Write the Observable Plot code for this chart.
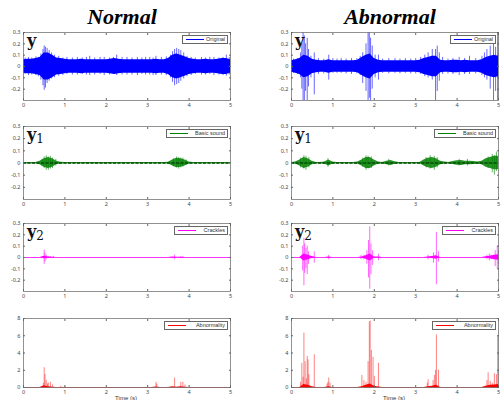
<!DOCTYPE html>
<html>
<head>
<meta charset="utf-8">
<script src="https://cdn.jsdelivr.net/npm/d3@7"></script>
<script src="https://cdn.jsdelivr.net/npm/@observablehq/plot@0.6"></script>
<style>
body{margin:0;background:#fff;}
#wrap{position:relative;width:501px;height:400px;overflow:hidden;background:#fff;}
.pane{position:absolute;}
.title{position:absolute;font-family:"Liberation Serif","DejaVu Serif",serif;font-weight:bold;font-style:italic;font-size:22px;color:#000;text-align:center;width:200px;}
.plab{position:absolute;font-family:"DejaVu Serif",serif;font-weight:bold;font-size:16px;line-height:16px;color:#111;}
.plab sub{font-size:12px;vertical-align:-3px;font-weight:normal;}
.leg{position:absolute;height:7px;border:1px solid #666;background:#fff;font-family:Arial,"Liberation Sans",sans-serif;font-size:5.5px;line-height:7px;color:#333;white-space:nowrap;}
.leg svg{position:absolute;left:3px;top:0;}
.leg span{position:absolute;right:2px;top:0;}
.xl{position:absolute;font-family:Arial,"Liberation Sans",sans-serif;font-size:6px;color:#333;text-align:center;width:60px;}
</style>
</head>
<body>
<div id="wrap"></div>
<script>
// ---------- data ----------
const columns = ["Normal", "Abnormal"];
const legendLabels = ["Original", "Basic sound", "Crackles", "Abnormality"];
const xTicks = [0, 1, 2, 3, 4, 5];
const yTicksSignal = [-0.2, -0.1, 0, 0.1, 0.2, 0.3];
const yTicksAbn = [0, 2, 4, 6, 8];
// sample times of the envelopes (s)
const tGrid = d3.range(0, 51).map(i => i / 10);

// envelope amplitudes at tGrid
const envNormalY = [0.06,0.065,0.065,0.07,0.08,0.12,0.12,0.1,0.075,0.07,0.065,0.06,0.06,0.06,0.065,0.06,0.06,0.06,0.06,0.06,0.06,0.065,0.07,0.065,0.06,0.06,0.06,0.06,0.06,0.06,0.06,0.06,0.065,0.06,0.06,0.07,0.1,0.11,0.1,0.085,0.07,0.065,0.06,0.06,0.065,0.06,0.06,0.065,0.07,0.07,0.06];
const envAbnY = [0.05,0.06,0.07,0.1,0.09,0.065,0.055,0.05,0.05,0.06,0.05,0.05,0.05,0.05,0.05,0.05,0.055,0.08,0.1,0.11,0.07,0.055,0.05,0.05,0.05,0.05,0.05,0.05,0.05,0.05,0.05,0.055,0.07,0.08,0.09,0.09,0.055,0.05,0.05,0.055,0.055,0.05,0.055,0.05,0.05,0.05,0.06,0.08,0.09,0.1,0.09];
const envNormalY1 = [0.005,0.005,0.005,0.005,0.015,0.035,0.045,0.035,0.015,0.006,0.005,0.005,0.005,0.005,0.005,0.005,0.005,0.005,0.005,0.005,0.005,0.005,0.005,0.005,0.005,0.005,0.005,0.005,0.005,0.005,0.005,0.005,0.005,0.005,0.005,0.006,0.025,0.04,0.035,0.025,0.008,0.005,0.005,0.005,0.005,0.005,0.005,0.005,0.005,0.005,0.005];
const envAbnY1 = [0.005,0.008,0.025,0.045,0.035,0.015,0.005,0.005,0.008,0.025,0.008,0.005,0.005,0.005,0.005,0.005,0.008,0.025,0.045,0.045,0.025,0.008,0.005,0.015,0.02,0.01,0.005,0.005,0.005,0.005,0.005,0.005,0.025,0.04,0.045,0.035,0.015,0.008,0.005,0.012,0.018,0.02,0.015,0.015,0.012,0.008,0.015,0.035,0.045,0.055,0.055];
const envNormalY2 = [0,0,0,0,0,0.012,0.004,0.002,0,0,0,0,0,0,0,0,0,0,0,0,0,0,0,0,0,0,0,0,0,0,0,0,0,0,0,0,0.004,0.002,0.002,0,0,0,0,0,0,0,0,0,0,0,0];
const envAbnY2 = [0,0,0,0.03,0.02,0.008,0,0,0,0.005,0,0,0,0,0,0,0,0.005,0.015,0.03,0.005,0.004,0,0,0,0,0,0,0,0,0,0,0,0.004,0.008,0.015,0,0,0,0,0,0,0,0,0,0,0,0.006,0.01,0.02,0.025];
const envNormalAbn = [0,0,0,0,0,0.2,0.1,0.03,0,0,0,0,0,0,0,0,0,0,0,0,0,0,0,0,0,0,0,0,0,0,0,0,0.05,0,0,0,0.08,0.03,0.08,0.03,0,0,0,0,0,0,0,0,0,0,0];
const envAbnAbn = [0,0,0,0.35,0.25,0.1,0,0,0,0.1,0,0,0,0,0,0,0,0.1,0.25,0.4,0.15,0.05,0,0,0,0,0,0,0,0,0,0,0,0.1,0.15,0.25,0,0,0,0,0,0,0,0,0,0,0,0.15,0.25,0.3,0.35];

// spikes: [time, top, bottom]
const spkNormalY = [[0.04,0.075,-0.07],[0.12,0.08,-0.08],[0.2,0.075,-0.075],[0.3,0.085,-0.08],[0.36,0.08,-0.09],[0.42,0.11,-0.12],[0.47,0.15,-0.17],[0.5,0.18,-0.21],[0.53,0.17,-0.19],[0.57,0.16,-0.15],[0.62,0.14,-0.13],[0.68,0.12,-0.11],[0.75,0.1,-0.1],[0.85,0.09,-0.085],[0.95,0.075,-0.08],[1.05,0.08,-0.07],[1.18,0.075,-0.075],[1.3,0.08,-0.075],[1.42,0.075,-0.07],[1.52,0.08,-0.075],[1.6,0.09,-0.08],[1.72,0.075,-0.075],[1.85,0.08,-0.07],[1.95,0.08,-0.08],[2.08,0.075,-0.075],[2.17,0.08,-0.07],[2.25,0.1,-0.08],[2.38,0.08,-0.075],[2.5,0.08,-0.075],[2.62,0.075,-0.075],[2.75,0.08,-0.08],[2.86,0.075,-0.07],[2.95,0.08,-0.075],[3.05,0.08,-0.075],[3.13,0.075,-0.08],[3.2,0.09,-0.08],[3.33,0.08,-0.075],[3.45,0.085,-0.08],[3.55,0.1,-0.1],[3.6,0.13,-0.14],[3.65,0.15,-0.17],[3.7,0.16,-0.16],[3.75,0.15,-0.15],[3.8,0.14,-0.13],[3.87,0.12,-0.11],[3.95,0.09,-0.09],[4.05,0.08,-0.08],[4.15,0.075,-0.07],[4.3,0.08,-0.075],[4.4,0.075,-0.075],[4.5,0.08,-0.07],[4.6,0.08,-0.08],[4.72,0.075,-0.075],[4.82,0.08,-0.08],[4.9,0.1,-0.085],[4.97,0.08,-0.075]];
const spkAbnY = [[0.05,0.065,-0.06],[0.15,0.07,-0.07],[0.22,0.12,-0.1],[0.25,0.2,-0.2],[0.28,0.3,-0.3],[0.31,0.27,-0.3],[0.34,0.2,-0.22],[0.38,0.25,-0.3],[0.41,0.15,-0.18],[0.47,0.09,-0.1],[0.55,0.12,-0.25],[0.65,0.07,-0.07],[0.78,0.065,-0.065],[0.9,0.1,-0.12],[1.0,0.07,-0.06],[1.1,0.065,-0.06],[1.2,0.07,-0.06],[1.32,0.065,-0.065],[1.45,0.07,-0.07],[1.58,0.07,-0.065],[1.66,0.09,-0.08],[1.72,0.12,-0.15],[1.8,0.2,-0.22],[1.85,0.3,-0.3],[1.88,0.3,-0.28],[1.91,0.25,-0.3],[1.95,0.18,-0.2],[2.02,0.1,-0.1],[2.1,0.1,-0.12],[2.2,0.065,-0.06],[2.35,0.07,-0.065],[2.5,0.07,-0.06],[2.62,0.065,-0.065],[2.75,0.07,-0.06],[2.88,0.065,-0.065],[3.0,0.07,-0.065],[3.12,0.08,-0.07],[3.22,0.1,-0.09],[3.3,0.12,-0.1],[3.4,0.15,-0.12],[3.48,0.15,-0.3],[3.52,0.18,-0.22],[3.57,0.12,-0.13],[3.65,0.08,-0.07],[3.78,0.065,-0.065],[3.9,0.07,-0.07],[4.05,0.08,-0.08],[4.18,0.07,-0.07],[4.3,0.09,-0.07],[4.45,0.07,-0.065],[4.6,0.09,-0.08],[4.66,0.12,-0.1],[4.72,0.15,-0.12],[4.8,0.18,-0.2],[4.88,0.2,-0.3],[4.93,0.17,-0.22],[4.98,0.3,-0.3]];
const spkNormalY1 = [[0.45,0.03,-0.03],[0.5,0.05,-0.045],[0.55,0.06,-0.06],[0.6,0.05,-0.06],[0.65,0.055,-0.05],[0.7,0.04,-0.045],[0.78,0.03,-0.025],[3.62,0.035,-0.03],[3.7,0.05,-0.04],[3.75,0.045,-0.05],[3.8,0.04,-0.04],[3.85,0.04,-0.035],[3.93,0.025,-0.02]];
const spkAbnY1 = [[0.22,0.04,-0.04],[0.3,0.06,-0.05],[0.35,0.055,-0.06],[0.42,0.045,-0.04],[0.88,0.035,-0.035],[1.72,0.04,-0.035],[1.8,0.06,-0.06],[1.85,0.055,-0.05],[1.93,0.05,-0.045],[2.35,0.03,-0.025],[3.25,0.045,-0.04],[3.35,0.06,-0.05],[3.45,0.055,-0.06],[3.52,0.045,-0.04],[4.05,0.03,-0.025],[4.25,0.03,-0.025],[4.75,0.05,-0.045],[4.85,0.07,-0.08],[4.9,0.06,-0.1],[4.95,0.09,-0.07]];
const spkNormalY2 = [[0.5,0.065,-0.06],[0.52,0.04,-0.04],[0.55,0.02,-0.02],[0.6,0.01,-0.01],[0.65,0.008,-0.008],[0.72,0.01,-0.01],[3.65,0.02,-0.02],[3.8,0.008,-0.008],[3.85,0.01,-0.01]];
const spkAbnY2 = [[0.27,0.1,-0.12],[0.3,0.17,-0.25],[0.32,0.12,-0.14],[0.35,0.08,-0.1],[0.38,0.1,-0.15],[0.41,0.05,-0.06],[0.55,0.05,-0.05],[0.9,0.02,-0.02],[1.68,0.02,-0.02],[1.75,0.02,-0.02],[1.82,0.06,-0.06],[1.86,0.15,-0.18],[1.89,0.27,-0.28],[1.92,0.12,-0.15],[1.96,0.06,-0.07],[2.1,0.03,-0.03],[3.3,0.02,-0.02],[3.43,0.04,-0.05],[3.5,0.22,-0.24],[3.55,0.05,-0.04],[4.72,0.02,-0.02],[4.78,0.03,-0.03],[4.82,0.02,-0.02],[4.92,0.06,-0.08],[4.97,0.1,-0.1],[5.0,0.06,-0.06]];
const spkNormalAbn = [[0.48,0.5,0],[0.5,2.3,0],[0.52,1.5,0],[0.55,0.8,0],[0.58,0.4,0],[0.6,0.5,0],[0.65,0.6,0],[0.7,0.3,0],[0.9,0.15,0],[1.0,0.15,0],[3.2,0.6,0],[3.22,0.4,0],[3.65,1.1,0],[3.8,0.6,0],[3.85,0.6,0],[3.9,0.3,0]];
const spkAbnAbn = [[0.22,0.6,0],[0.25,2.8,0],[0.28,1.2,0],[0.3,6.3,0],[0.33,3.0,0],[0.36,1.0,0],[0.38,3.6,0],[0.4,3.2,0],[0.42,1.5,0],[0.55,3.8,0],[0.86,0.4,0],[0.88,0.6,0],[0.9,1.1,0],[0.93,0.5,0],[1.7,1.4,0],[1.75,0.8,0],[1.8,0.6,0],[1.85,3.0,0],[1.88,7.6,0],[1.9,7.7,0],[1.93,4.3,0],[1.97,3.5,0],[2.0,1.3,0],[2.1,2.8,0],[3.28,0.5,0],[3.3,0.9,0],[3.42,0.8,0],[3.45,1.4,0],[3.48,2.0,0],[3.5,6.1,0],[3.55,2.0,0],[4.72,0.8,0],[4.75,1.7,0],[4.8,0.7,0],[4.85,0.5,0],[4.9,1.6,0],[4.95,1.5,0],[4.98,6.0,0]];

// ---------- layout ----------
const rowsTB = [[31.5, 99.5], [126, 199], [223, 291], [318, 387]];
const rowColor = ["#0000ff", "#008000", "#ff00ff", "#ff0000"];
const rowLabel = ["y", "y<sub>1</sub>", "y<sub>2</sub>", ""];
const legendW = [44, 60, 52, 62];
const panels = [
  [[envNormalY, spkNormalY], [envAbnY, spkAbnY]],
  [[envNormalY1, spkNormalY1], [envAbnY1, spkAbnY1]],
  [[envNormalY2, spkNormalY2], [envAbnY2, spkAbnY2]],
  [[envNormalAbn, spkNormalAbn], [envAbnAbn, spkAbnAbn]]
];

const wrap = document.getElementById("wrap");
const fmt = d => String(d);

columns.forEach((name, c) => {
  const t = document.createElement("div");
  t.className = "title";
  t.textContent = name;
  t.style.left = (c === 0 ? 22 : 290) + "px";
  t.style.top = "4px";
  wrap.appendChild(t);
});

for (let r = 0; r < 4; r++) {
  for (let c = 0; c < 2; c++) {
    const [env, spk] = panels[r][c];
    const color = rowColor[r];
    const [T, B] = rowsTB[r];
    const ml = c === 0 ? 23 : 40, mr = c === 0 ? 20 : 3;
    const mt = 6, mb = 14;
    const left = c === 0 ? 0 : 251;
    const isAbn = r === 3;
    const yDomain = isAbn ? [0, 8] : [-0.3, 0.3];
    const yTicks = isAbn ? yTicksAbn : yTicksSignal;
    const data = env.map((v, i) => ({t: tGrid[i], v}));
    const marks = [
      Plot.ruleY([0], {stroke: color, strokeWidth: 0.8}),
      Plot.areaY(data, {x: "t", y1: d => isAbn ? 0 : -d.v, y2: d => d.v, fill: color, fillOpacity: r === 1 ? 0.85 : 1, curve: "linear"}),
      Plot.ruleX(spk, {x: d => d[0], y1: d => d[2], y2: d => d[1], stroke: color, strokeWidth: 0.7, strokeOpacity: isAbn ? 0.7 : 0.85})
    ];
    if (r === 1) marks.push(Plot.ruleY([0], {stroke: "#0b4d0b", strokeWidth: 1.4, strokeDasharray: "3,1.5"}));
    marks.push(
      Plot.frame({stroke: "#777", strokeWidth: 0.8}),
      Plot.axisX({ticks: xTicks, tickFormat: fmt, tickSize: -2, tickPadding: 5, fontSize: 5.5, label: null, stroke: "#666", fill: "#444"}),
      Plot.axisX({anchor: "top", ticks: xTicks, tickFormat: () => "", tickSize: -2, label: null, stroke: "#666"}),
      Plot.axisY({ticks: yTicks, tickFormat: fmt, tickSize: -2, tickPadding: 5, fontSize: 5.5, label: null, stroke: "#666", fill: "#444"}),
      Plot.axisY({anchor: "right", ticks: yTicks, tickFormat: () => "", tickSize: -2, label: null, stroke: "#666"})
    );
    const svg = Plot.plot({
      width: 250,
      height: (B - T) + mt + mb,
      marginLeft: ml, marginRight: mr, marginTop: mt, marginBottom: mb,
      x: {domain: [0, 5]},
      y: {domain: yDomain},
      style: {background: "transparent", overflow: "visible"},
      marks
    });
    const holder = document.createElement("div");
    holder.className = "pane";
    holder.style.left = left + "px";
    holder.style.top = (T - mt) + "px";
    holder.appendChild(svg);
    wrap.appendChild(holder);

    const plotLeft = left + ml, plotRight = left + 250 - mr;
    if (rowLabel[r]) {
      const lab = document.createElement("div");
      lab.className = "plab";
      lab.innerHTML = rowLabel[r];
      lab.style.left = (plotLeft + 4) + "px";
      lab.style.top = (T + 1) + "px";
      wrap.appendChild(lab);
    }
    const lg = document.createElement("div");
    lg.className = "leg";
    lg.style.width = legendW[r] + "px";
    lg.style.left = (plotRight - 4 - legendW[r]) + "px";
    lg.style.top = (T + 3) + "px";
    lg.innerHTML = `<svg width="18" height="7"><line x1="0" x2="18" y1="3.5" y2="3.5" stroke="${color}" stroke-width="1"></line></svg><span>${legendLabels[r]}</span>`;
    wrap.appendChild(lg);
  }
}
["Time (s)", "Time (s)"].forEach((s, c) => {
  const x = document.createElement("div");
  x.className = "xl";
  x.textContent = s;
  x.style.left = (c === 0 ? 96 : 364) + "px";
  x.style.top = "395px";
  wrap.appendChild(x);
});
</script>
</body>
</html>
